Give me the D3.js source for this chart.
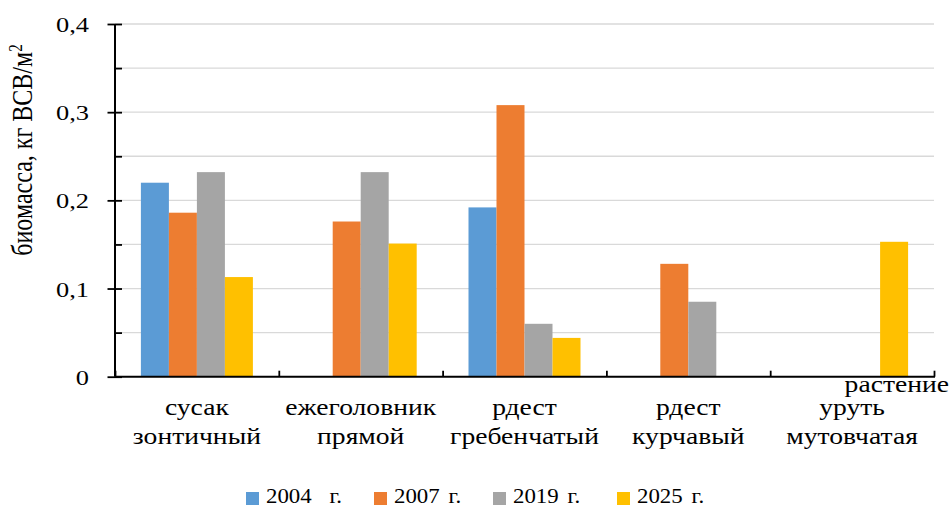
<!DOCTYPE html>
<html><head><meta charset="utf-8">
<script src="https://cdn.jsdelivr.net/npm/d3@7"></script>
<style>body{margin:0;background:#fff}svg{display:block}text{font-family:"Liberation Serif","Times New Roman",serif;fill:#000}</style>
</head><body><svg id="c" width="952" height="508"></svg>
<script>
const categories = [["сусак","зонтичный"],["ежеголовник","прямой"],["рдест","гребенчатый"],["рдест","курчавый"],["уруть","мутовчатая"]];
const seriesNames = ["2004  г.","2007 г.","2019 г.","2025 г."];
const v2004 = [0.220, null, 0.192, null, null];
const v2007 = [0.186, 0.176, 0.308, 0.128, null];
const v2019 = [0.232, 0.232, 0.060, 0.085, null];
const v2025 = [0.113, 0.151, 0.044, null, 0.153];
const seriesValues = [v2004, v2007, v2019, v2025];
const colors = ["#5b9bd5","#ed7d31","#a5a5a5","#ffc000"];
const yTicks = [0, 0.1, 0.2, 0.3, 0.4];
const yTickLabels = ["0","0,1","0,2","0,3","0,4"];
const yMinor = [0.05, 0.15, 0.25, 0.35];
const yTitle = "биомасса, кг ВСВ/м";
const xTitle = "растение";

const svg = d3.select("#c");
const L = 115, R = 934, T = 24, B = 376.7;
const catKeys = categories.map((c,i)=>i);
const x0 = d3.scaleBand().domain(catKeys).range([L, R]).padding(0);
const x1 = d3.scaleBand().domain(d3.range(4)).range([0, x0.bandwidth()]).paddingInner(0).paddingOuter(0.925);
const y = d3.scaleLinear().domain([0, 0.4]).range([B, T]);

// gridlines
svg.append("g").selectAll("line").data(d3.range(1,9).map(i=>i*0.05)).join("line")
  .attr("x1", L).attr("x2", R).attr("y1", d=>y(d)).attr("y2", d=>y(d))
  .attr("stroke", "#d9d9d9").attr("stroke-width", 1.3);

// bars
seriesValues.forEach((vals, s) => {
  svg.append("g").selectAll("rect").data(vals.map((v,i)=>({v,i})).filter(d=>d.v!=null)).join("rect")
    .attr("x", d=>x0(d.i)+x1(s)).attr("width", x1.bandwidth())
    .attr("y", d=>y(d.v)).attr("height", d=>y(0)-y(d.v))
    .attr("fill", colors[s]);
});

// y axis
const ya = svg.append("g").attr("transform", `translate(${L},0)`)
  .call(d3.axisLeft(y).tickValues(yTicks).tickSize(7).tickFormat(""));
ya.select(".domain").remove();
ya.selectAll(".tick line").attr("stroke","#000").attr("stroke-width",1.8).attr("x2",-7.5).attr("x1",7);
svg.append("g").attr("transform", `translate(${L},0)`)
  .call(d3.axisRight(y).tickValues(yMinor).tickSize(7).tickFormat(""))
  .call(g=>{g.select(".domain").remove(); g.selectAll(".tick line").attr("stroke","#000").attr("stroke-width",1.8);});
svg.append("line").attr("x1",L).attr("x2",L).attr("y1",T).attr("y2",B).attr("stroke","#000").attr("stroke-width",2);

// y tick labels
yTicks.forEach((t,i)=>{
  svg.append("g").attr("transform",`translate(89,${y(t)+8}) scale(1.2,1)`)
    .append("text").attr("text-anchor","end").attr("font-size",22).text(yTickLabels[i]);
});

// x axis
svg.append("g").attr("transform", `translate(0,${B})`)
  .call(d3.axisTop(d3.scaleLinear().domain([0,5]).range([L,R])).ticks(5).tickSize(6).tickFormat(""))
  .call(g=>{g.select(".domain").remove(); g.selectAll(".tick line").attr("stroke","#000").attr("stroke-width",1.8);});
svg.append("line").attr("x1",L).attr("x2",R+1).attr("y1",B).attr("y2",B).attr("stroke","#000").attr("stroke-width",2);

// category labels
categories.forEach((c,i)=>{
  const cx = x0(i)+x0.bandwidth()/2;
  c.forEach((line,j)=>{
    svg.append("g").attr("transform",`translate(${cx},${415+j*29}) scale(1.15,1)`)
      .append("text").attr("text-anchor","middle").attr("font-size",24).text(line);
  });
});
svg.append("g").attr("transform",`translate(949,392) scale(1.15,1)`)
  .append("text").attr("text-anchor","end").attr("font-size",24).text(xTitle);

// y title
const yt = svg.append("g").attr("transform",`translate(32,150) scale(1.2,1) rotate(-90)`)
  .append("text").attr("text-anchor","middle").attr("font-size",24);
yt.append("tspan").text(yTitle);
yt.append("tspan").attr("font-size",15).attr("dy",-8).text("2");

// legend
const legX = [246, 374, 493, 617];
seriesNames.forEach((n,i)=>{
  svg.append("rect").attr("x",legX[i]).attr("y",492).attr("width",13).attr("height",13).attr("fill",colors[i]);
  svg.append("g").attr("transform",`translate(${legX[i]+20},503) scale(1.04,1)`)
    .append("text").attr("font-size",22).attr("word-spacing",3).style("white-space","pre").text(n);
});
</script></body></html>
